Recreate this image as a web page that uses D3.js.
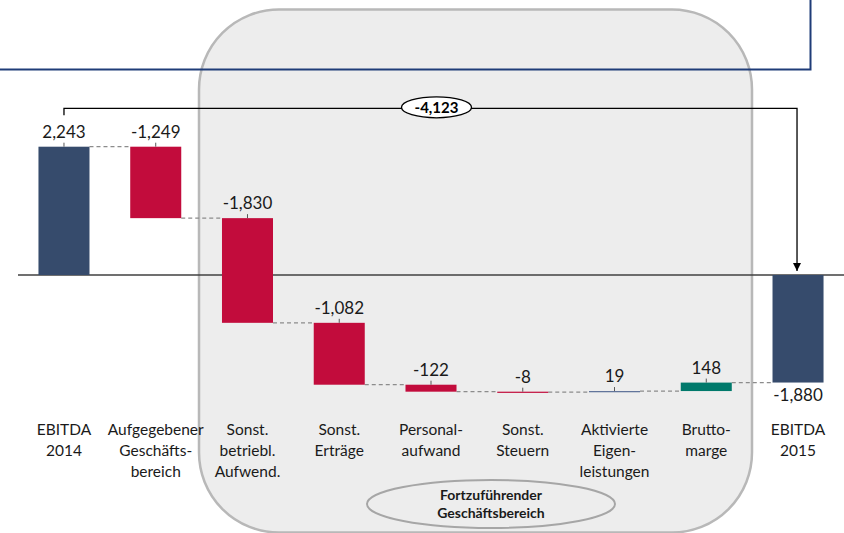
<!DOCTYPE html>
<html>
<head>
<meta charset="utf-8">
<script src="https://cdn.jsdelivr.net/npm/d3@7"></script>
<style>
  body { margin: 0; background: #fff; }
  svg { display: block; font-family: Lato, "Open Sans", sans-serif; }
</style>
</head>
<body>
<div id="chart"></div>
<script>
// categories (label lines), values and bar kinds
const categories = [
  ['EBITDA', '2014'],
  ['Aufgegebener', 'Geschäfts-', 'bereich'],
  ['Sonst.', 'betriebl.', 'Aufwend.'],
  ['Sonst.', 'Erträge'],
  ['Personal-', 'aufwand'],
  ['Sonst.', 'Steuern'],
  ['Aktivierte', 'Eigen-', 'leistungen'],
  ['Brutto-', 'marge'],
  ['EBITDA', '2015']
];
const values = [2243, -1249, -1830, -1082, -122, -8, 19, 148, -1880];
const kinds = ['total', 'minus', 'minus', 'minus', 'minus', 'minus', 'small', 'plus', 'total'];
const bridgeLabel = '-4,123';
const groupLabel = ['Fortzuführender', 'Geschäftsbereich'];

const W = 844, H = 533;
const colors = { total: '#364b6c', minus: '#c20c3c', plus: '#00796b', small: '#5a6f97' };

const svg = d3.select('#chart').append('svg')
  .attr('width', W).attr('height', H);

const x = d3.scaleBand()
  .domain(d3.range(categories.length))
  .range([18.1, 843.9])
  .paddingInner(0.444)
  .paddingOuter(0.222);

const y = d3.scaleLinear().domain([-2000, 2500]).range([389.4, 132.0]);

// running totals
let run = 0;
const bars = values.map((v, i) => {
  let start, end;
  if (kinds[i] === 'total') { start = 0; end = v; }
  else { start = run; end = run + v; }
  run = end;
  return { i, v, start, end, kind: kinds[i] };
});

const fmt = v => d3.format(',')(v).replace('\u2212', '-');
const bw = x.bandwidth();

// "continuing business" panel
svg.append('rect')
  .attr('x', 199).attr('y', 9.5)
  .attr('width', 553).attr('height', 523)
  .attr('rx', 80).attr('ry', 80)
  .attr('fill', '#ededed')
  .attr('stroke', '#b8b8b8')
  .attr('stroke-width', 2.5);

const eg = svg.append('g').attr('transform', 'translate(491,504)');
eg.append('ellipse')
  .attr('rx', 124).attr('ry', 24)
  .attr('fill', '#ededed')
  .attr('stroke', '#a6a6a6')
  .attr('stroke-width', 2);
groupLabel.forEach((t, k) => {
  eg.append('text')
    .attr('y', -4 + k * 18)
    .attr('text-anchor', 'middle')
    .attr('font-size', 14)
    .attr('font-weight', 'bold')
    .attr('fill', '#1a1a1a')
    .text(t);
});

// zero line
svg.append('line')
  .attr('x1', 18).attr('x2', W)
  .attr('y1', y(0)).attr('y2', y(0))
  .attr('stroke', '#404040')
  .attr('stroke-width', 1.5);

// connectors
svg.append('g').selectAll('line')
  .data(bars.slice(0, -1))
  .enter().append('line')
    .attr('x1', d => x(d.i) + bw)
    .attr('x2', d => x(d.i + 1))
    .attr('y1', d => y(d.end))
    .attr('y2', d => y(d.end))
    .attr('stroke', '#8c8c8c')
    .attr('stroke-width', 1.2)
    .attr('stroke-dasharray', '4,3');

// bars
svg.append('g').selectAll('rect')
  .data(bars)
  .enter().append('rect')
    .attr('x', d => x(d.i))
    .attr('width', bw)
    .attr('y', d => y(Math.max(d.start, d.end)))
    .attr('height', d => Math.max(1.2, Math.abs(y(d.start) - y(d.end))))
    .attr('fill', d => colors[d.kind]);

// value labels
const lab = svg.append('g');
bars.forEach(d => {
  const cx = x(d.i) + bw / 2;
  const below = d.kind === 'total' && d.v < 0;
  if (below) {
    lab.append('text')
      .attr('x', cx).attr('y', y(d.end) + 18)
      .attr('text-anchor', 'middle')
      .attr('font-size', 17).attr('fill', '#1a1a1a')
      .text(fmt(d.v));
  } else {
    const top = y(Math.max(d.start, d.end));
    lab.append('line')
      .attr('x1', cx).attr('x2', cx)
      .attr('y1', top - 4).attr('y2', top)
      .attr('stroke', '#595959').attr('stroke-width', 1);
    lab.append('text')
      .attr('x', cx).attr('y', top - 9)
      .attr('text-anchor', 'middle')
      .attr('font-size', 17).attr('fill', '#1a1a1a')
      .text(fmt(d.v));
  }
});

// category labels
const cl = svg.append('g');
categories.forEach((lines, i) => {
  lines.forEach((t, k) => {
    cl.append('text')
      .attr('x', x(i) + bw / 2)
      .attr('y', 434.5 + k * 21.3)
      .attr('text-anchor', 'middle')
      .attr('font-size', 15.5).attr('fill', '#1a1a1a')
      .text(t);
  });
});

// bridge bracket with arrow
const first = bars[0], last = bars[bars.length - 1];
const bx1 = x(first.i) + bw / 2, bx2 = x(last.i) + bw / 2 - 1;
const by = 108.3;
svg.append('defs').append('marker')
  .attr('id', 'arr')
  .attr('viewBox', '0 0 10 10')
  .attr('refX', 10).attr('refY', 5)
  .attr('markerWidth', 8).attr('markerHeight', 8)
  .attr('markerUnits', 'userSpaceOnUse')
  .attr('orient', 'auto')
  .append('path').attr('d', 'M0,0L10,5L0,10Z').attr('fill', '#000');

svg.append('path')
  .attr('d', `M${bx1},${by + 7}V${by}H${bx2}V${y(0) - 4}`)
  .attr('fill', 'none')
  .attr('stroke', '#000')
  .attr('stroke-width', 1.3)
  .attr('marker-end', 'url(#arr)');

const og = svg.append('g').attr('transform', `translate(${(bx1 + bx2) / 2 + 6},${by - 1})`);
og.append('ellipse')
  .attr('rx', 35).attr('ry', 10.5)
  .attr('fill', '#fff')
  .attr('stroke', '#000')
  .attr('stroke-width', 1.3);
og.append('text')
  .attr('y', 5.5)
  .attr('text-anchor', 'middle')
  .attr('font-size', 15)
  .attr('font-weight', 'bold')
  .attr('fill', '#000')
  .text(bridgeLabel);

// header frame
svg.append('rect')
  .attr('x', -5).attr('y', -5)
  .attr('width', 815.5).attr('height', 74.5)
  .attr('fill', 'none')
  .attr('stroke', '#1f3c78')
  .attr('stroke-width', 2);
</script>
</body>
</html>
